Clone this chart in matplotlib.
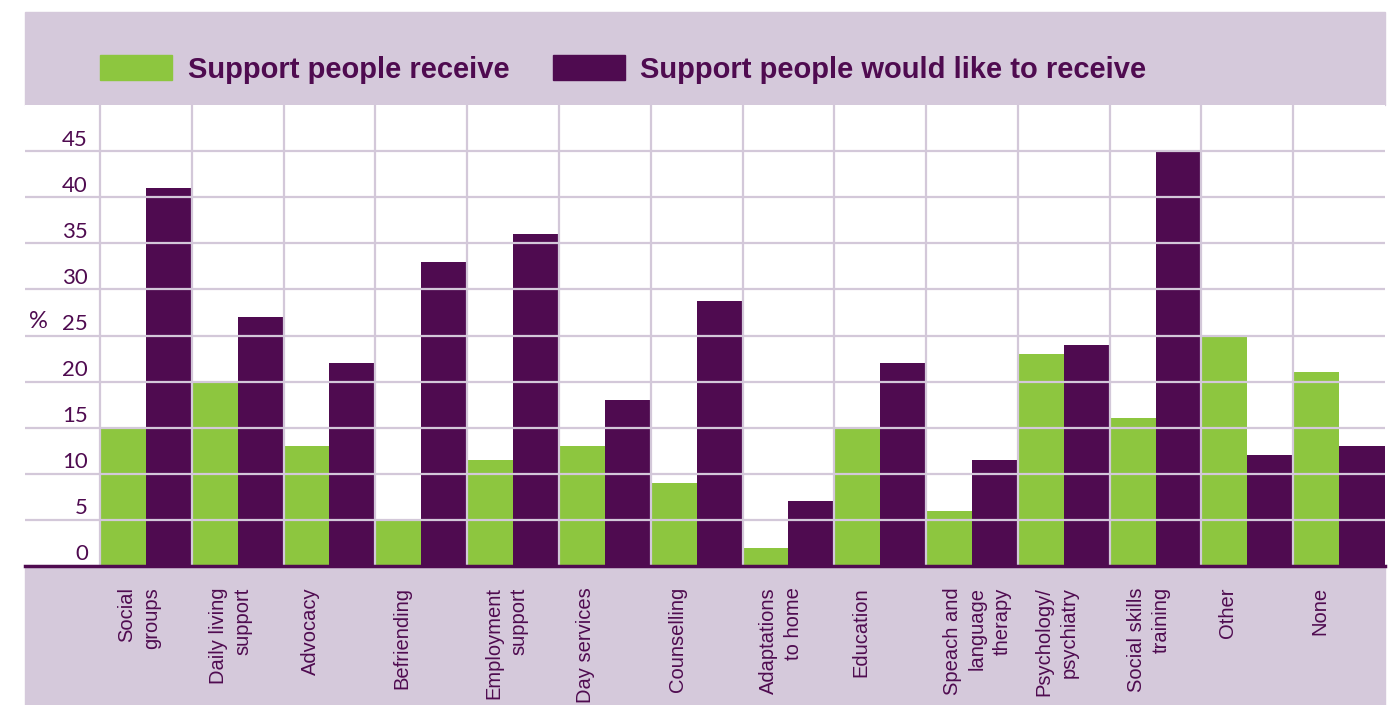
import matplotlib
matplotlib.use("Agg")
import matplotlib.pyplot as plt
from matplotlib.patches import Rectangle
import numpy as np

# data
categories = ["Social\ngroups", "Daily living\nsupport", "Advocacy", "Befriending",
              "Employment\nsupport", "Day services", "Counselling", "Adaptations\nto home",
              "Education", "Speach and\nlanguage\ntherapy", "Psychology/\npsychiatry",
              "Social skills\ntraining", "Other", "None"]
receive = [15, 20, 13, 5, 11.5, 13, 9, 2, 15, 6, 23, 16, 25, 21]
would_like = [41, 27, 22, 33, 36, 18, 28.7, 7, 22, 11.5, 24, 45, 12, 13]
y_ticks = [0, 5, 10, 15, 20, 25, 30, 35, 40, 45]
series_names = ["Support people receive", "Support people would like to receive"]

GREEN = "#8DC63F"
PURPLE = "#4F0B50"
PANEL = "#D5C9DB"
GRID = "#D3C8D9"

W, H = 1400, 705
fig = plt.figure(figsize=(14, 7.05), dpi=100)

# background panels
fig.patches.append(Rectangle((25 / W, 1 - 105 / H), 1360 / W, 93 / H,
                             transform=fig.transFigure, color=PANEL, zorder=-1))
fig.patches.append(Rectangle((25 / W, 0), 1360 / W, (705 - 568) / H,
                             transform=fig.transFigure, color=PANEL, zorder=-1))

ax = fig.add_axes([25 / W, 1 - 566 / H, 1360 / W, (566 - 105) / H])
ax.set_zorder(2)
unit = (1385 - 100) / 14
x = np.arange(len(categories))

ax.bar(x, receive, width=0.5, align="edge", color=GREEN, zorder=1)
ax.bar(x + 0.5, would_like, width=0.5, align="edge", color=PURPLE, zorder=1)

ax.set_xlim(-75 / unit, len(categories))
ax.set_ylim(0, 50)

# grid lines drawn over the bars
ax.set_yticks(y_ticks[1:])
ax.set_yticklabels([])
ax.set_xticks(x)
ax.set_xticklabels([])
ax.tick_params(length=0)
ax.set_axisbelow(False)
ax.grid(True, color=GRID, linewidth=1.6)
for s in ["top", "left", "right"]:
    ax.spines[s].set_visible(False)
ax.spines["bottom"].set_color(PURPLE)
ax.spines["bottom"].set_linewidth(2.5)
ax.spines["bottom"].set_zorder(3)

# y tick labels sit just above each grid line
for v in y_ticks:
    ax.text(-12 / unit, v + 0.6, str(v), ha="right", va="baseline",
            fontsize=16, color=PURPLE, family="Lato")
ax.text(-62 / unit, 26.5, "%", ha="center", va="center",
        fontsize=17, color=PURPLE, family="Lato")

# category labels
for i, lab in enumerate(categories):
    ax.text(i + 0.25 - 6 / unit, -0.046, lab, transform=ax.get_xaxis_transform(),
            rotation=90, ha="left", va="top", multialignment="right",
            fontsize=14.5, color=PURPLE, family="Liberation Sans", linespacing=1.4)

# legend
fig.patches.append(Rectangle((100 / W, 1 - 80 / H), 72 / W, 25 / H,
                             transform=fig.transFigure, color=GREEN))
fig.text(188 / W, 1 - 70 / H, series_names[0], ha="left", va="center",
         fontsize=21, fontweight="bold", color=PURPLE, family="Liberation Sans")
fig.patches.append(Rectangle((553 / W, 1 - 80 / H), 72 / W, 25 / H,
                             transform=fig.transFigure, color=PURPLE))
fig.text(640 / W, 1 - 70 / H, series_names[1], ha="left", va="center",
         fontsize=21, fontweight="bold", color=PURPLE, family="Liberation Sans")

fig.savefig("out.png", dpi=100)
